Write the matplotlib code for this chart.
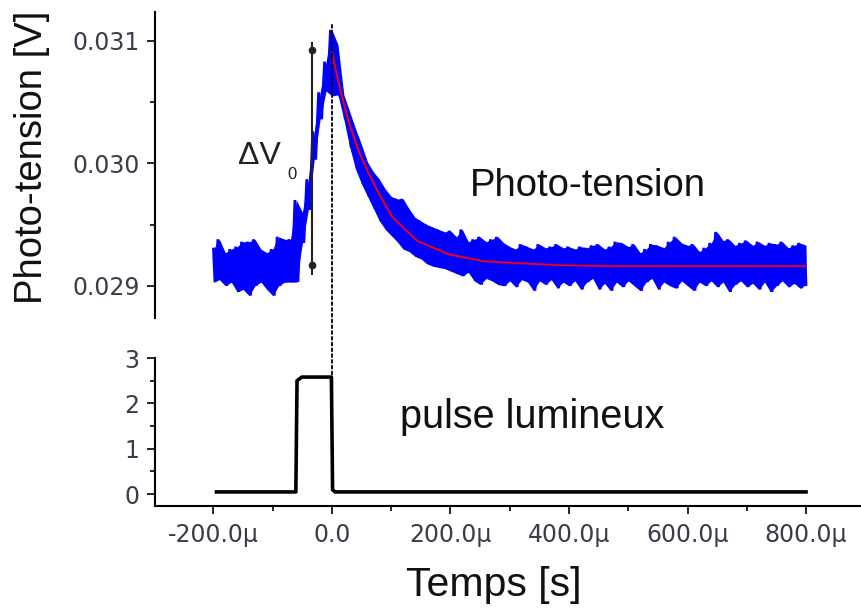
import numpy as np
import matplotlib
matplotlib.use("Agg")
import matplotlib.pyplot as plt
from matplotlib.ticker import FixedLocator, FuncFormatter, MultipleLocator
from matplotlib.patches import ConnectionPatch

plt.rcParams['font.family'] = ['Liberation Sans', 'DejaVu Sans']

# ---------------- data (time in microseconds) ----------------
# blue noisy photo-voltage trace: envelope read every 10 us
trace_t = np.arange(-200, 801, 10)
trace_upper = [
    0.02930, 0.02938, 0.02927, 0.02930, 0.02932, 0.02936, 0.02936, 0.02938,
    0.02930, 0.02927, 0.02930, 0.02940, 0.02938, 0.02938, 0.02970,
    0.02960, 0.02987, 0.03026, 0.03058, 0.03083, 0.03109, 0.03097, 0.03056,
    0.03042, 0.03028, 0.03015, 0.03001, 0.02993, 0.02987, 0.02979, 0.02973,
    0.02971, 0.02971, 0.02963, 0.02956, 0.02953, 0.02950, 0.02948, 0.02946,
    0.02944, 0.02945,
    0.02940, 0.02946, 0.02936, 0.02938, 0.02940, 0.02936, 0.02938, 0.02940,
    0.02935, 0.02932, 0.02930, 0.02934, 0.02932, 0.02930, 0.02934, 0.02931,
    0.02932, 0.02934, 0.02931, 0.02932, 0.02930, 0.02932, 0.02931, 0.02933,
    0.02934, 0.02930, 0.02932, 0.02936, 0.02935, 0.02932, 0.02934, 0.02927,
    0.02930, 0.02934, 0.02933, 0.02931, 0.02936, 0.02940, 0.02935, 0.02933,
    0.02934, 0.02928, 0.02931, 0.02935, 0.02944, 0.02937, 0.02938, 0.02933,
    0.02935, 0.02937, 0.02933, 0.02936, 0.02933, 0.02935, 0.02934, 0.02936,
    0.02931, 0.02933, 0.02935, 0.02933,
]
trace_lower = [
    0.02903, 0.02905, 0.02900, 0.02903, 0.02895, 0.02897, 0.02892, 0.02900,
    0.02903, 0.02897, 0.02892, 0.02900, 0.02903, 0.02903, 0.02903,
    0.02935, 0.02962, 0.03003, 0.03036, 0.03059, 0.03055, 0.03056, 0.03036,
    0.03013, 0.02995, 0.02983, 0.02973, 0.02963, 0.02953, 0.02946, 0.02941,
    0.02936, 0.02930, 0.02928, 0.02924, 0.02922, 0.02918, 0.02916, 0.02915,
    0.02914, 0.02912,
    0.02910, 0.02908, 0.02911, 0.02904, 0.02901, 0.02906, 0.02904, 0.02901,
    0.02900, 0.02904, 0.02899, 0.02905, 0.02903, 0.02896, 0.02904, 0.02901,
    0.02905, 0.02898, 0.02903, 0.02900, 0.02904, 0.02897, 0.02903, 0.02906,
    0.02897, 0.02902, 0.02896, 0.02903, 0.02899, 0.02904, 0.02900, 0.02896,
    0.02903, 0.02906, 0.02897, 0.02903, 0.02900, 0.02898, 0.02904, 0.02900,
    0.02896, 0.02903, 0.02900, 0.02904, 0.02899, 0.02903, 0.02895, 0.02901,
    0.02904, 0.02899, 0.02902, 0.02897, 0.02903, 0.02895, 0.02900, 0.02904,
    0.02899, 0.02902, 0.02898, 0.02901,
]

# red fitted decay
fit_t = [0, 10, 27, 44, 61, 78, 101, 123, 145, 169, 196, 221, 255, 312, 385, 478, 800]
fit_v = [0.030911, 0.030683, 0.030358, 0.030113, 0.029926, 0.029763, 0.029567,
         0.029461, 0.029364, 0.029315, 0.029258, 0.029234, 0.029201, 0.029185,
         0.029168, 0.029160, 0.029160]

# light pulse
pulse_t = [-195, -61, -59, -51, -1, 1, 5, 800]
pulse_v = [0.05, 0.05, 2.50, 2.58, 2.58, 0.10, 0.05, 0.05]

x_major = [-200, 0, 200, 400, 600, 800]
top_yticks = [0.029, 0.030, 0.031]
top_ylabels = ["0.029", "0.030", "0.031"]
bot_yticks = [0, 1, 2, 3]

# ---------------- figure ----------------
W, H = 861, 612
fig = plt.figure(figsize=(W / 100, H / 100), dpi=100)

def fx(px):
    return px / W

def fy(py):
    return 1 - py / H

left = fx(155)
ax1 = fig.add_axes([left, fy(318), 1 - left, fy(12) - fy(318)])
ax2 = fig.add_axes([left, fy(506), 1 - left, fy(358) - fy(506)], sharex=ax1)

ax1.set_xlim(-298.7, 892.8)
ax1.set_ylim(0.028737, 0.031236)
ax2.set_ylim(-0.26, 3.0)

tick_color = '#3b3b4b'
for ax in (ax1, ax2):
    ax.patch.set_visible(False)
    for s in ('top', 'right'):
        ax.spines[s].set_visible(False)
    ax.spines['left'].set_linewidth(1.5)
    ax.spines['bottom'].set_linewidth(1.5)
    ax.tick_params(which='major', direction='out', length=6, width=1.2,
                   labelsize=17, labelcolor=tick_color, pad=5)
    ax.tick_params(which='minor', direction='out', length=3.5, width=1.2)

ax1.spines['bottom'].set_visible(False)
ax1.tick_params(axis='x', which='both', bottom=False, labelbottom=False)
ax1.yaxis.set_major_locator(FixedLocator(top_yticks))
ax1.set_yticklabels(top_ylabels)
ax1.yaxis.set_minor_locator(MultipleLocator(0.0005))

ax2.yaxis.set_major_locator(FixedLocator(bot_yticks))
ax2.yaxis.set_minor_locator(MultipleLocator(0.5))
ax2.xaxis.set_major_locator(FixedLocator(x_major))
ax2.xaxis.set_minor_locator(MultipleLocator(100))
ax2.xaxis.set_major_formatter(FuncFormatter(
    lambda v, p: "0.0" if abs(v) < 1e-9 else f"{v:.1f}\u00b5"))
ax2.tick_params(axis='x', pad=6)

fig.canvas.draw()
for ax in (ax1, ax2):
    for lab in ax.get_xticklabels() + ax.get_yticklabels():
        lab.set_fontfamily('DejaVu Sans')

# blue trace: solid core between the envelopes, plus a zig-zag between
# upper and lower envelope samples to give the noisy edge texture
ax1.fill_between(trace_t, trace_lower, trace_upper,
                 color='#0000ff', linewidth=0, zorder=2)
zz_t = np.ravel(np.column_stack([np.array(trace_t) - 2.5, np.array(trace_t) + 2.5]))
zz_v = np.ravel(np.column_stack([trace_upper, trace_lower]))
zz_t = np.clip(zz_t, trace_t[0], trace_t[-1])
ax1.plot(zz_t, zz_v, color='#0000ff', lw=2.0, solid_joinstyle='miter', zorder=2)

# red fit
ax1.plot(fit_t, fit_v, color='#ff0000', lw=1.3, zorder=3)

# delta V arrow
ax1.plot([-34, -34], [0.030985, 0.029095], color='#222222', lw=1.5, zorder=4)
ax1.plot([-34, -34], [0.030927, 0.029170], 'o', color='#222222', ms=4.5, zorder=4)
ax1.text(-158.6, 0.029991, "\u0394V", fontsize=23, color='#222222',
         ha='left', va='baseline')
ax1.text(-75, 0.029869, "0", fontsize=12, color='#222222', ha='left', va='baseline')
ax1.text(233, 0.029730, "Photo-tension", fontsize=27.5, color='#111111',
         ha='left', va='baseline')

# pulse
ax2.plot(pulse_t, pulse_v, color='black', lw=2.6, solid_joinstyle='round', zorder=3)
ax2.text(115, 1.457, "pulse lumineux", fontsize=28.5, color='#111111',
         ha='left', va='baseline')

# dashed t=0 line across both panels
con = ConnectionPatch(xyA=(0, 0.031131), coordsA=ax1.transData,
                      xyB=(0, 2.58), coordsB=ax2.transData,
                      color='black', lw=1.3, linestyle=(0, (1.6, 1.6)), zorder=5)
fig.add_artist(con)

fig.text(fx(32), fy(157), "Photo-tension [V]", rotation=90, fontsize=27.5,
         ha='center', va='center', color='#111111')
fig.text(fx(494), fy(585), "Temps [s]", fontsize=29.5, ha='center', va='center',
         color='#111111')

fig.savefig("out.png", dpi=100)
